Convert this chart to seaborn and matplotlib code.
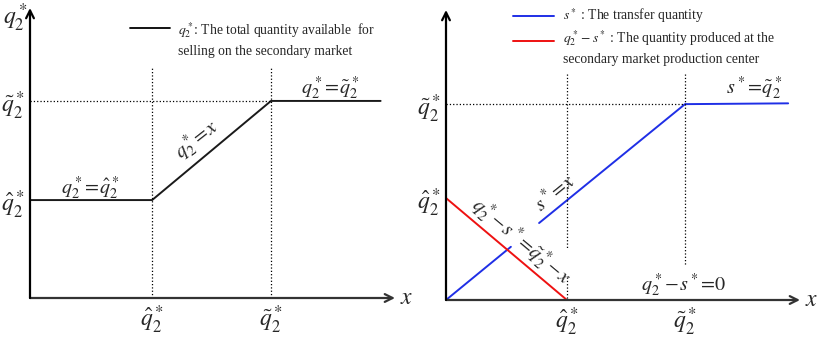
import numpy as np
import pandas as pd
import matplotlib.pyplot as plt
import seaborn as sns
from matplotlib.lines import Line2D

# Data (schematic units)
# left panel: total quantity q2* vs x
left_x = [0.0, 3.03, 5.98, 8.7]
left_q2 = [2.43, 2.43, 4.89, 4.89]
left_q_hat = 3.03
left_q_tilde = 5.98
left_y_hat = 2.43
left_y_tilde = 4.89

# right panel: transfer quantity s* (drawn in two pieces, gap for label)
s_x_a = [0.0, 1.61]
s_y_a = [0.0, 1.32]
s_x_b = [2.31, 5.93, 8.49]
s_y_b = [1.91, 4.86, 4.88]
# right panel: q2* - s*
r_x = [0.0, 3.0, 8.61]
r_y = [2.53, 0.0, 0.0]
right_q_hat = 3.0
right_q_tilde = 5.93
right_y_hat = 2.53
right_y_tilde = 4.86

x_tick_labels = [r'$\hat{q}_2^*$', r'$\tilde{q}_2^*$']
y_tick_labels = [r'$\hat{q}_2^*$', r'$\tilde{q}_2^*$']

sns.set_style("white")
plt.rcParams['font.family'] = ['Liberation Serif', 'DejaVu Serif']
plt.rcParams['mathtext.fontset'] = 'stix'

W, H = 822, 341
fig = plt.figure(figsize=(W / 100, H / 100), dpi=100)


def fx(px):
    return px / W


def fy(py):
    return 1 - py / H


ax1 = fig.add_axes([fx(30), fy(298), (395 - 30) / W, (298 - 8) / H])
ax2 = fig.add_axes([fx(446), fy(300), (800 - 446) / W, (300 - 10) / H])
ax1.set_xlim(0, 365 / 40.3)
ax1.set_ylim(0, 290 / 40.3)
ax2.set_xlim(0, 354 / 40.3)
ax2.set_ylim(0, 290 / 40.3)

axis_color = '#333333'
for ax in (ax1, ax2):
    for sp in ax.spines.values():
        sp.set_visible(False)
    xmax = ax.get_xlim()[1]
    ymax = ax.get_ylim()[1]
    ax.annotate('', xy=(xmax, 0), xytext=(0, 0), annotation_clip=False,
                arrowprops=dict(arrowstyle='->', lw=1.6, color=axis_color,
                                shrinkA=0, shrinkB=0, mutation_scale=14))
    ax.annotate('', xy=(0, ymax), xytext=(0, 0), annotation_clip=False,
                arrowprops=dict(arrowstyle='->', lw=1.6, color='black',
                                shrinkA=0, shrinkB=0, mutation_scale=14))
    ax.text(xmax + 0.12, 0, r'$x$', fontsize=17, ha='left', va='center')
    ax.tick_params(length=0, labelsize=17)

eq_size = 14.5

# ---------------- left panel ----------------
sns.lineplot(x=left_x, y=left_q2, ax=ax1, color='#1a1a1a', lw=1.4, sort=False)
ax1.plot([left_q_hat, left_q_hat], [0, 5.7], ls=':', color='black', lw=0.9)
ax1.plot([left_q_tilde, left_q_tilde], [0, 5.7], ls=':', color='black', lw=0.9)
ax1.plot([0, left_q_tilde], [left_y_tilde, left_y_tilde], ls=':', color='black', lw=0.9)
ax1.set_xticks([left_q_hat, left_q_tilde], labels=x_tick_labels)
ax1.set_yticks([left_y_hat, left_y_tilde], labels=y_tick_labels)
ax1.tick_params(axis='x', pad=4)
ax1.tick_params(axis='y', pad=4)
ax1.text(-0.37, 6.95, r'$q_2^*$', fontsize=17, ha='center', va='center')

ax1.text(1.49, 2.73, r'$q_2^*\! =\! \hat{q}_2^*$', fontsize=eq_size, ha='center', va='center')
ax1.text(7.44, 5.21, r'$q_2^*\! =\! \tilde{q}_2^*$', fontsize=eq_size, ha='center', va='center')
ax1.text(4.14, 3.92, r'$q_2^*\! =\! x$', fontsize=eq_size, ha='center', va='center',
         rotation=38, rotation_mode='anchor')

fig.add_artist(Line2D([fx(130), fx(170)], [fy(28), fy(28)], color='black', lw=1.3))
fig.text(fx(178), fy(30), r'$q_2^*$: The total quantity available  for',
         fontsize=9.8, ha='left', va='center')
fig.text(fx(178), fy(52), 'selling on the secondary market',
         fontsize=9.8, ha='left', va='center')

# ---------------- right panel ----------------
sns.lineplot(x=s_x_a, y=s_y_a, ax=ax2, color='#1f2fe6', lw=1.4, sort=False)
sns.lineplot(x=s_x_b, y=s_y_b, ax=ax2, color='#1f2fe6', lw=1.4, sort=False)
sns.lineplot(x=r_x, y=r_y, ax=ax2, color='#ee1111', lw=1.4, sort=False)
ax2.plot([right_q_hat, right_q_hat], [5.62, 1.27], ls=':', color='black', lw=0.9)
ax2.plot([right_q_hat, right_q_hat], [0.57, 0], ls=':', color='black', lw=0.9)
ax2.plot([right_q_tilde, right_q_tilde], [5.62, 0.84], ls=':', color='black', lw=0.9)
ax2.plot([0, right_q_tilde], [right_y_tilde, right_y_tilde], ls=':', color='black', lw=0.9)
ax2.set_xticks([right_q_hat, right_q_tilde], labels=x_tick_labels)
ax2.set_yticks([right_y_hat, right_y_tilde], labels=y_tick_labels)
ax2.tick_params(axis='x', pad=4)
ax2.tick_params(axis='y', pad=4)

ax2.text(7.64, 5.26, r'$s^*\! =\! \tilde{q}_2^*$', fontsize=eq_size, ha='center', va='center')
ax2.text(2.73, 2.66, r'$s^*\! =\! x$', fontsize=eq_size, ha='center', va='center',
         rotation=39, rotation_mode='anchor')
ax2.text(1.86, 1.44, r'$q_2^*\! -\! s^*\! =\! \tilde{q}_2^*\! -\! x$', fontsize=eq_size,
         ha='center', va='center', rotation=-40, rotation_mode='anchor')
ax2.text(5.9, 0.37, r'$q_2^*\! -\! s^*\! =\! 0$', fontsize=eq_size, ha='center', va='center')

fig.add_artist(Line2D([fx(513), fx(554)], [fy(16), fy(16)], color='#1f2fe6', lw=1.4))
fig.add_artist(Line2D([fx(513), fx(554)], [fy(41), fy(41)], color='#ee1111', lw=1.4))
fig.text(fx(563), fy(16), r'$s^*$ : The transfer quantity',
         fontsize=9.8, ha='left', va='center')
fig.text(fx(563), fy(38), r'$q_2^* - s^*$ : The quantity produced at the',
         fontsize=9.8, ha='left', va='center')
fig.text(fx(563), fy(59), 'secondary market production center',
         fontsize=9.8, ha='left', va='center')

plt.savefig("out.png", dpi=100)
